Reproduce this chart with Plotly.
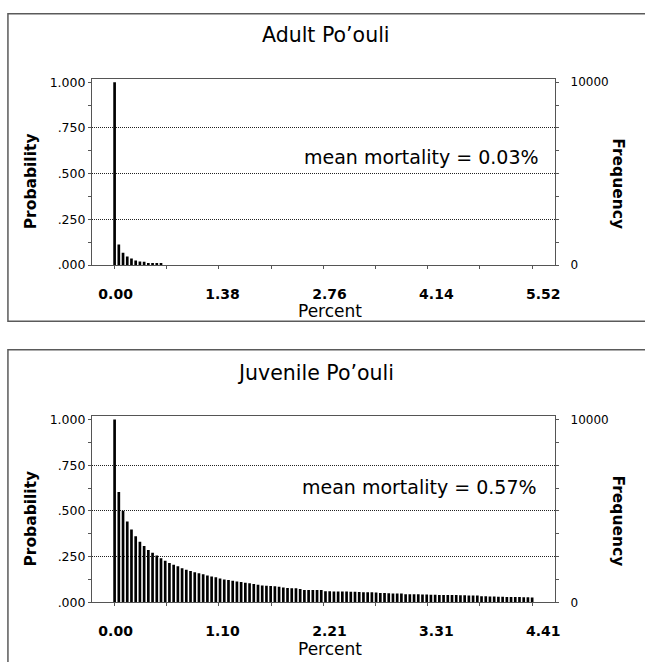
import plotly.graph_objects as go

# ---------------- data ----------------
adult_title = "Adult Po’ouli"
juvenile_title = "Juvenile Po’ouli"
adult_mean_text = "mean mortality = 0.03%"
juvenile_mean_text = "mean mortality = 0.57%"
adult_max = 5.52
juvenile_max = 4.41
adult_ticklabels = ["0.00", "1.38", "2.76", "4.14", "5.52"]
juvenile_ticklabels = ["0.00", "1.10", "2.21", "3.31", "4.41"]
prob_tickvals = [0.0, 0.25, 0.5, 0.75, 1.0]
prob_ticktext = [".000", ".250", ".500", ".750", "1.000"]
freq_tickvals = [0, 10000]
freq_ticktext = ["0", "10000"]
freq_max = 10000
n_bins = 100

adult_probability = [1.0, 0.113, 0.068, 0.047, 0.036, 0.025, 0.020, 0.018,
                     0.011, 0.011, 0.011, 0.011]

juvenile_probability = [
    1.0, 0.603, 0.501, 0.442, 0.399, 0.361, 0.331, 0.308, 0.286, 0.272,
    0.256, 0.241, 0.227, 0.215, 0.206, 0.197, 0.186, 0.179, 0.172, 0.165,
    0.159, 0.154, 0.147, 0.141, 0.138, 0.131, 0.125, 0.123, 0.118, 0.114,
    0.111, 0.107, 0.104, 0.100, 0.097, 0.093, 0.091, 0.089, 0.088, 0.086,
    0.082, 0.079, 0.077, 0.077, 0.073, 0.068, 0.068, 0.068, 0.068, 0.068,
    0.061, 0.061, 0.060, 0.060, 0.059, 0.059, 0.058, 0.058, 0.057, 0.056,
    0.056, 0.055, 0.054, 0.052, 0.051, 0.050, 0.049, 0.049, 0.048, 0.045,
    0.045, 0.044, 0.044, 0.043, 0.043, 0.042, 0.042, 0.041, 0.041, 0.041,
    0.040, 0.040, 0.039, 0.039, 0.038, 0.038, 0.037, 0.033, 0.033, 0.032,
    0.032, 0.031, 0.031, 0.030, 0.030, 0.029, 0.029, 0.028, 0.028, 0.027,
]

# ---------------- geometry / style ----------------
W, H = 645, 662
FONT = "DejaVu Sans"
PLOT_L, PLOT_R = 92.7, 559.5
X0_PX, XMAX_PX = 115.5, 536.3        # pixel of value 0 and of max on tick axis
LAB0_PX, LABMAX_PX = 116.5, 547.5    # pixel of first / last tick label
UNIT_PX = 186.0                      # pixels per probability unit
LINE = "#555555"


def px_x(p):
    return p / W


def px_y(p):
    return 1 - p / H


def xrange_for(maxv, p0, p1):
    s = maxv / (p1 - p0)
    return [-(p0 - PLOT_L) * s, maxv + (PLOT_R - p1) * s]


fig = go.Figure()
layout = dict(
    width=W, height=H, autosize=False,
    margin=dict(l=0, r=0, t=0, b=0),
    paper_bgcolor="white", plot_bgcolor="white",
    showlegend=False, annotations=[], shapes=[],
    font=dict(family=FONT, color="black"),
)


def add_panel(k, title, title_xy, mean_text, mean_xy, maxv, ticklabels,
              probs, plot_top, baseline):
    xi, xl = 2 * k + 1, 2 * k + 2
    yl, yr, yg = 3 * k + 1, 3 * k + 2, 3 * k + 3
    nm = lambda a, i: a if i == 1 else f"{a}{i}"
    xname, xlname = nm("x", xi), nm("x", xl)
    yname, yrname, ygname = nm("y", yl), nm("y", yr), nm("y", yg)

    ytop = (baseline - plot_top) / UNIT_PX
    dom_y = [px_y(baseline), px_y(plot_top)]
    dom_x = [px_x(PLOT_L), px_x(PLOT_R)]

    step = maxv / (n_bins - 1)
    centers = [i * step for i in range(len(probs))]
    barw = 2.7 * maxv / (XMAX_PX - X0_PX)

    fig.add_trace(go.Bar(x=centers, y=probs, width=barw,
                         marker=dict(color="black", line=dict(width=0)),
                         xaxis=xname, yaxis=yname, hoverinfo="skip"))
    fig.add_trace(go.Scatter(
        x=[0, maxv], y=[-0.044, -0.044], mode="markers", cliponaxis=False,
        marker=dict(symbol=["triangle-right", "triangle-left"], size=9,
                    color="#c8c8c8", line=dict(color="#555555", width=1)),
        xaxis=xname, yaxis=yname, hoverinfo="skip"))
    for xa, ya in [(xlname, yname), (xname, yrname), (xname, ygname)]:
        fig.add_trace(go.Scatter(x=[], y=[], xaxis=xa, yaxis=ya,
                                 hoverinfo="skip"))

    layout[nm("xaxis", xi)] = dict(
        domain=dom_x, anchor=yname, range=xrange_for(maxv, X0_PX, XMAX_PX),
        tickmode="array", tickvals=[maxv * i / 8 for i in range(9)],
        showticklabels=False, ticks="outside", ticklen=3, tickcolor=LINE,
        showline=True, linecolor=LINE, linewidth=1, mirror=True,
        showgrid=False, zeroline=False, fixedrange=True)
    layout[nm("xaxis", xl)] = dict(
        overlaying=xname, anchor=yname, side="bottom",
        range=xrange_for(maxv, LAB0_PX, LABMAX_PX),
        tickmode="array", tickvals=[maxv * i / 4 for i in range(5)],
        ticktext=ticklabels, ticks="", ticklabelstandoff=19,
        tickfont=dict(family=FONT, size=14, weight="bold", color="black"),
        showline=False, showgrid=False, zeroline=False, fixedrange=True)
    layout[nm("yaxis", yl)] = dict(
        domain=dom_y, anchor=xname, range=[0, ytop],
        tickmode="array", tickvals=prob_tickvals, ticktext=prob_ticktext,
        ticks="outside", ticklen=3, tickcolor=LINE, ticklabelstandoff=0,
        minor=dict(tickmode="array", tickvals=[0.125, 0.375, 0.625, 0.875],
                   ticks="outside", ticklen=3, tickcolor=LINE),
        tickfont=dict(family=FONT, size=12.5, color="black"),
        showline=True, linecolor=LINE, linewidth=1, mirror=True,
        showgrid=False, zeroline=False, fixedrange=True)
    layout[nm("yaxis", yr)] = dict(
        overlaying=yname, anchor=xname, side="right",
        range=[0, ytop * freq_max],
        tickmode="array", tickvals=freq_tickvals, ticktext=freq_ticktext,
        ticks="outside", ticklen=3, tickcolor=LINE, ticklabelstandoff=9,
        minor=dict(tickmode="array",
                   tickvals=[freq_max * i / 8 for i in range(1, 8)],
                   ticks="outside", ticklen=3, tickcolor=LINE),
        tickfont=dict(family=FONT, size=12, color="black"),
        showline=False, showgrid=False, zeroline=False, fixedrange=True)
    layout[nm("yaxis", yg)] = dict(
        overlaying=yname, anchor=xname, range=[0, ytop],
        tickmode="array", tickvals=[0.25, 0.5, 0.75],
        showticklabels=False, ticks="",
        showgrid=True, gridcolor="#222222", gridwidth=1, griddash="1px,1px",
        showline=False, zeroline=False, fixedrange=True)

    off = baseline - 265.5
    anns = layout["annotations"]
    anns.append(dict(text=title, x=px_x(title_xy[0]), y=px_y(title_xy[1]),
                     xref="paper", yref="paper", showarrow=False,
                     xanchor="center", yanchor="middle",
                     font=dict(family=FONT, size=20.5, color="black")))
    anns.append(dict(text=mean_text, x=px_x(mean_xy[0]), y=px_y(mean_xy[1]),
                     xref="paper", yref="paper", showarrow=False,
                     xanchor="right", yanchor="middle",
                     font=dict(family=FONT, size=19, color="black")))
    anns.append(dict(text="<b>Probability</b>", x=px_x(31), y=px_y(180.5 + off),
                     xref="paper", yref="paper", showarrow=False,
                     textangle=-90, xanchor="center", yanchor="middle",
                     font=dict(family=FONT, size=15.5, color="black")))
    anns.append(dict(text="<b>Frequency</b>", x=px_x(622.5), y=px_y(183 + off),
                     xref="paper", yref="paper", showarrow=False,
                     textangle=90, xanchor="center", yanchor="middle",
                     font=dict(family=FONT, size=15.5, color="black")))
    anns.append(dict(text="Percent", x=px_x(333), y=px_y(312.5 + off),
                     xref="paper", yref="paper", showarrow=False,
                     xanchor="center", yanchor="middle",
                     font=dict(family=FONT, size=17, color="black")))


add_panel(0, adult_title, (328.7, 31.7), adult_mean_text, (545, 156),
          adult_max, adult_ticklabels, adult_probability, 76, 265.5)
add_panel(1, juvenile_title, (318, 375), juvenile_mean_text, (543.3, 491.3),
          juvenile_max, juvenile_ticklabels, juvenile_probability, 419, 608.5)

layout["shapes"] = [
    dict(type="rect", xref="paper", yref="paper",
         x0=px_x(8), x1=px_x(660), y0=px_y(322.7), y1=px_y(10),
         line=dict(color="#5a5a5a", width=1.5), fillcolor="rgba(0,0,0,0)",
         layer="below"),
    dict(type="rect", xref="paper", yref="paper",
         x0=px_x(8), x1=px_x(660), y0=px_y(680), y1=px_y(351.7),
         line=dict(color="#5a5a5a", width=1.5), fillcolor="rgba(0,0,0,0)",
         layer="below"),
]

fig.update_layout(**layout)
fig.write_html(
    "out.html",
    config={"displayModeBar": False, "staticPlot": True},
    post_script="document.body.style.margin='0';document.body.style.overflow='hidden';",
)
